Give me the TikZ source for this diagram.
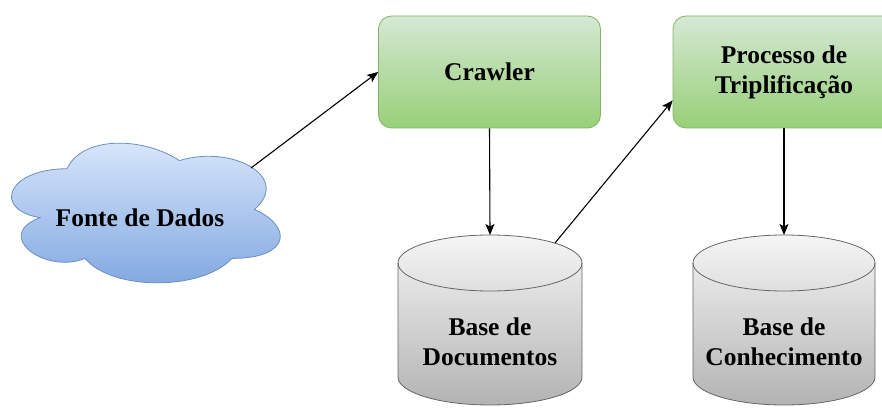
\documentclass[tikz,border=0pt]{standalone}
\usepackage{fontspec}
\setmainfont{Liberation Serif}
\usetikzlibrary{arrows.meta,calc}
\definecolor{gtop}{HTML}{D5E8D4}
\definecolor{gbot}{HTML}{97D077}
\definecolor{gline}{HTML}{82B366}
\definecolor{btop}{HTML}{DAE8FC}
\definecolor{bbot}{HTML}{7EA6E0}
\definecolor{bline}{HTML}{6C8EBF}
\definecolor{ctop}{HTML}{F5F5F5}
\definecolor{cbot}{HTML}{B3B3B3}
\definecolor{cline}{HTML}{666666}
\tikzset{
  lbl/.style={font=\fontsize{25.5}{30}\selectfont\bfseries, align=center, text=black},
  gbox/.style={lbl, draw=gline, line width=0.8pt, rounded corners=13pt, top color=gtop, bottom color=gbot, minimum width=222pt, minimum height=112pt},
  dbbody/.style={draw=cline, line width=0.8pt, top color=ctop, bottom color=cbot},
  dbedge/.style={draw=cline, line width=0.8pt},
  cloudshape/.style={draw=bline, line width=0.8pt, top color=btop, bottom color=bbot},
  conn/.style={line width=1.1pt, -{Stealth[length=11pt,width=9pt,inset=2.5pt]}}
}
\begin{document}
\begin{tikzpicture}[x=1pt,y=1pt]
\useasboundingbox (0,0) rectangle (882,407);
% cloud
\path[cloudshape] (67,238.25)
  .. controls (7,238.25) and (-8,197.5) .. (40,189.35)
  .. controls (-8,171.4) and (46,132.3) .. (85,148.6)
  .. controls (112,116) and (202,116) .. (232,148.6)
  .. controls (292,148.6) and (292,181.2) .. (254.5,197.5)
  .. controls (292,230.1) and (232,262.7) .. (179.5,246.4)
  .. controls (142,270.85) and (82,270.85) .. (67,238.25) -- cycle;
\node[lbl] (fonte) at (140,189) {Fonte de Dados};
\coordinate (cloudtip) at (251,239);
% boxes
\node[gbox] (crawler) at (489.5,335) {Crawler};
\node[gbox] (proc) at (784,335) {Processo de\\Triplificação};
% cylinder 1
\path[dbbody] (398,144) arc[start angle=180,end angle=0,x radius=92,y radius=28]
  -- (582,30) arc[start angle=0,end angle=-180,x radius=92,y radius=28] -- cycle;
\draw[dbedge] (398,144) arc[start angle=180,end angle=360,x radius=92,y radius=28];
\node[lbl] (db1) at (490,65) {Base de\\Documentos};
\coordinate (db1top) at (490,172);
\coordinate (db1ne) at (555,164);
% cylinder 2
\path[dbbody] (693,144) arc[start angle=180,end angle=0,x radius=91,y radius=28]
  -- (875,30) arc[start angle=0,end angle=-180,x radius=91,y radius=28] -- cycle;
\draw[dbedge] (693,144) arc[start angle=180,end angle=360,x radius=91,y radius=28];
\node[lbl] (db2) at (784,65) {Base de\\Conhecimento};
\coordinate (db2top) at (784,172);
% connectors
\draw[conn] (cloudtip) -- (crawler.west);
\draw[conn] (crawler.south) -- (db1top);
\draw[conn] (db1ne) -- ($(proc.south west)+(0,28)$);
\draw[conn] (proc.south) -- (db2top);
\end{tikzpicture}
\end{document}
